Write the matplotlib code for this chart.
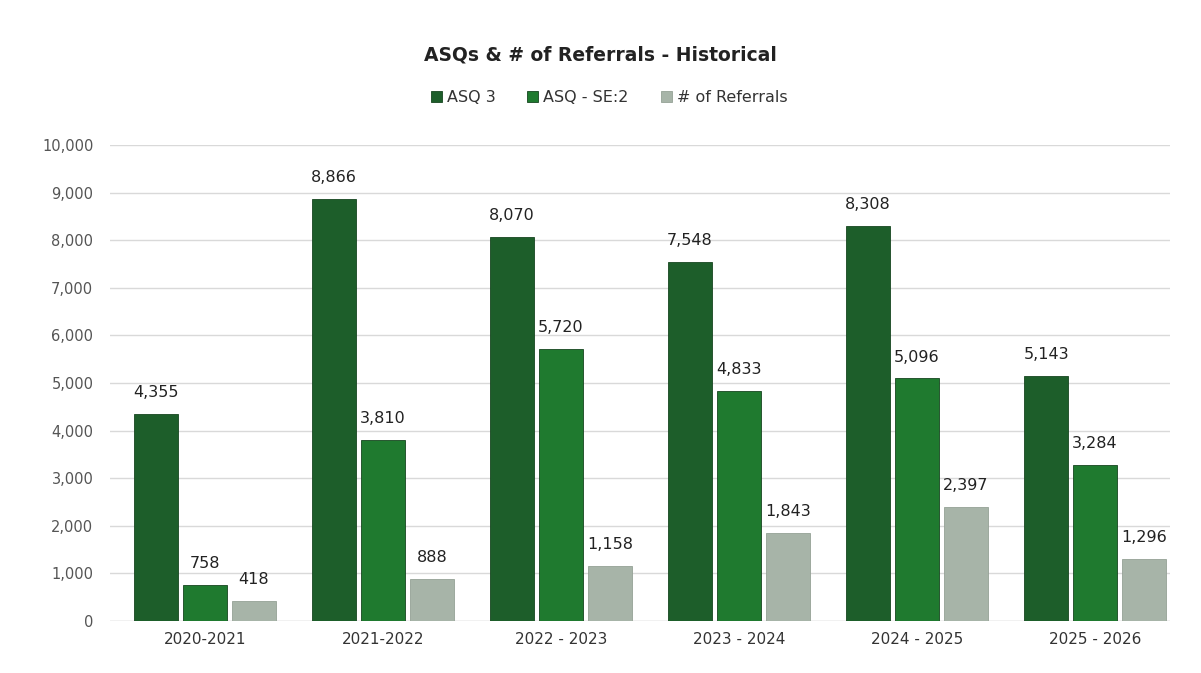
import numpy as np
import matplotlib.pyplot as plt

categories = ['2020-2021', '2021-2022', '2022 - 2023', '2023 - 2024', '2024 - 2025', '2025 - 2026']
asq3 = [4355, 8866, 8070, 7548, 8308, 5143]
asq_se2 = [758, 3810, 5720, 4833, 5096, 3284]
referrals = [418, 888, 1158, 1843, 2397, 1296]
series_names = ['ASQ 3', 'ASQ - SE:2', '# of Referrals']
colors = ['#1d5e2a', '#1f7a2f', '#a7b4a8']

fig = plt.figure(figsize=(12.01, 6.73), dpi=100)
ax = fig.add_axes([0.0916, 0.0773, 0.8824, 0.7073])

x = np.arange(len(categories))
step = 0.275
width = 0.247
for i, (vals, name, c) in enumerate(zip([asq3, asq_se2, referrals], series_names, colors)):
    pos = x + (i - 1) * step
    bars = ax.bar(pos, vals, width, color=c, label=name, zorder=3,
                  edgecolor='#16451f' if i < 2 else '#95a196', linewidth=0.6)
    for xp, v in zip(pos, vals):
        ax.annotate(f'{v:,}', (xp, v), xytext=(0, 10), textcoords='offset points',
                    ha='center', va='bottom', fontsize=11.5, color='#222222')

ax.set_xlim(-0.534, 5.42)
ax.set_ylim(0, 10000)
ax.set_yticks(range(0, 10001, 1000))
ax.set_yticklabels([f'{v:,}' for v in range(0, 10001, 1000)], fontsize=10.5, color='#555555')
ax.set_xticks(x)
ax.set_xticklabels(categories, fontsize=11, color='#333333')
ax.yaxis.grid(True, color='#d9d9d9', linewidth=1, zorder=0)
ax.tick_params(axis='both', length=0, pad=12)
ax.tick_params(axis='x', pad=8)
for s in ax.spines.values():
    s.set_visible(False)
ax.axhline(0, color='#d9d9d9', linewidth=1, zorder=2)

fig.text(0.5, 0.918, 'ASQs & # of Referrals - Historical', ha='center', va='center',
         fontsize=13.5, fontweight='bold', color='#222222')
fig.legend(loc='center', bbox_to_anchor=(0.507, 0.855), ncol=3, frameon=False,
           fontsize=11.5, handlelength=0.7, handleheight=0.7, handletextpad=0.3,
           columnspacing=2.0, labelcolor='#333333')

plt.savefig('out.png', dpi=100)
